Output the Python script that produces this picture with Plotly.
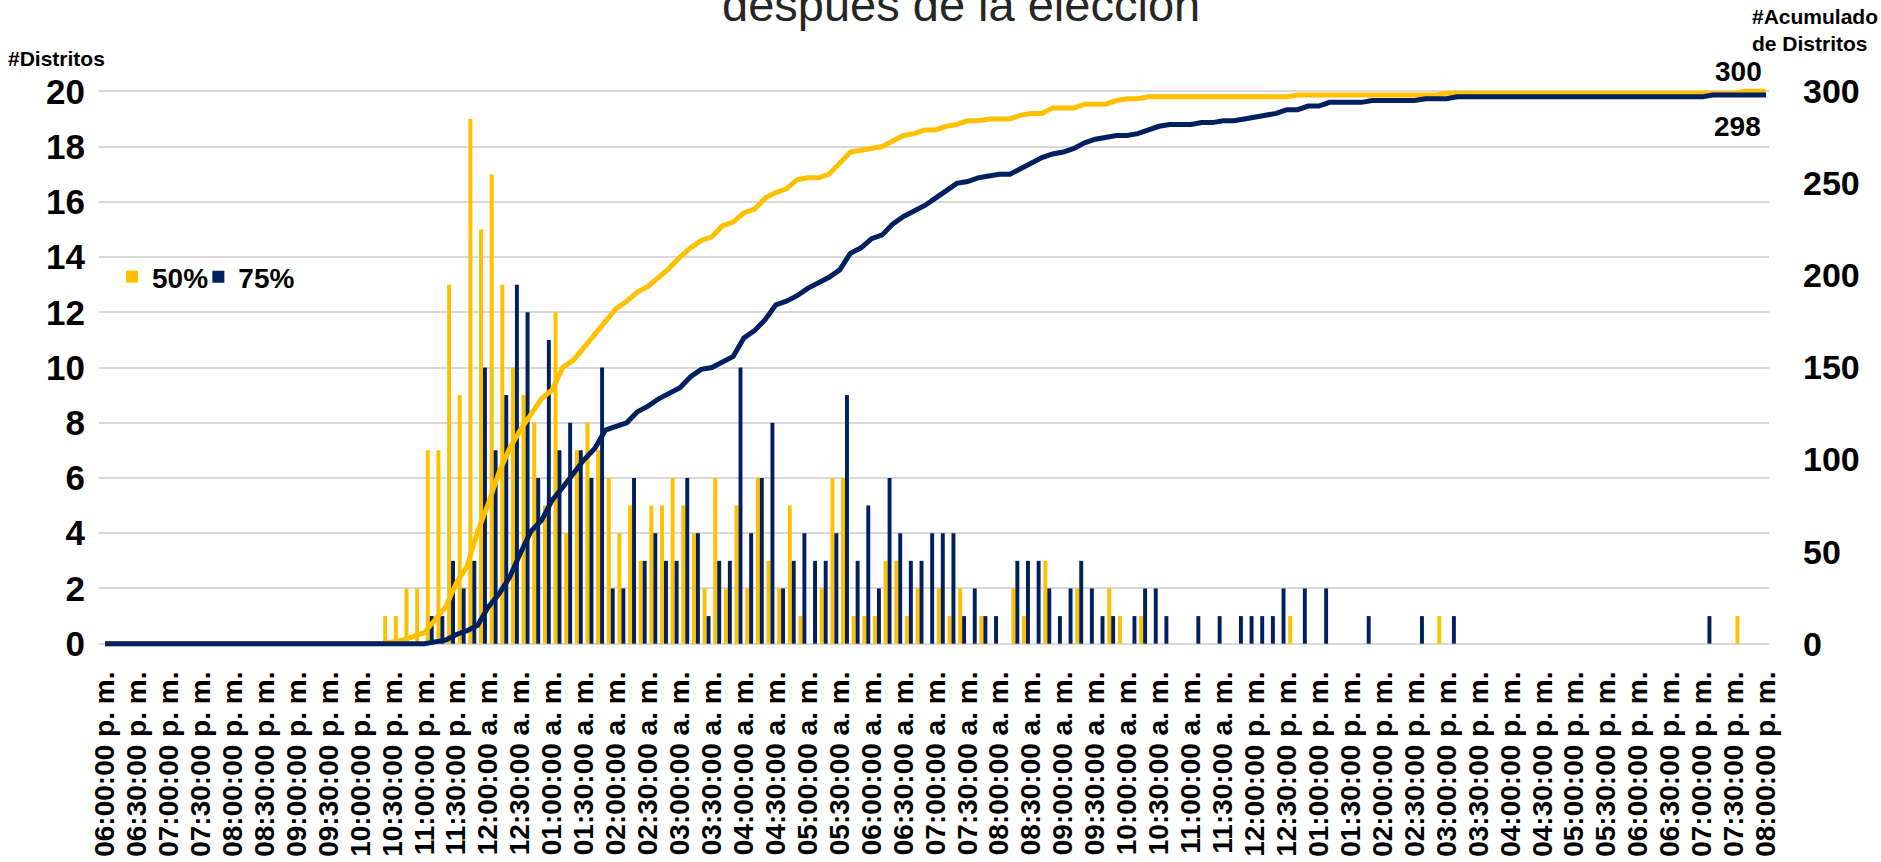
import plotly.graph_objects as go

# ---------------- data ----------------
tick_labels = [
    "06:00:00 p. m.", "06:30:00 p. m.", "07:00:00 p. m.", "07:30:00 p. m.",
    "08:00:00 p. m.", "08:30:00 p. m.", "09:00:00 p. m.", "09:30:00 p. m.",
    "10:00:00 p. m.", "10:30:00 p. m.", "11:00:00 p. m.", "11:30:00 p. m.",
    "12:00:00 a. m.", "12:30:00 a. m.", "01:00:00 a. m.", "01:30:00 a. m.",
    "02:00:00 a. m.", "02:30:00 a. m.", "03:00:00 a. m.", "03:30:00 a. m.",
    "04:00:00 a. m.", "04:30:00 a. m.", "05:00:00 a. m.", "05:30:00 a. m.",
    "06:00:00 a. m.", "06:30:00 a. m.", "07:00:00 a. m.", "07:30:00 a. m.",
    "08:00:00 a. m.", "08:30:00 a. m.", "09:00:00 a. m.", "09:30:00 a. m.",
    "10:00:00 a. m.", "10:30:00 a. m.", "11:00:00 a. m.", "11:30:00 a. m.",
    "12:00:00 p. m.", "12:30:00 p. m.", "01:00:00 p. m.", "01:30:00 p. m.",
    "02:00:00 p. m.", "02:30:00 p. m.", "03:00:00 p. m.", "03:30:00 p. m.",
    "04:00:00 p. m.", "04:30:00 p. m.", "05:00:00 p. m.", "05:30:00 p. m.",
    "06:00:00 p. m.", "06:30:00 p. m.", "07:00:00 p. m.", "07:30:00 p. m.",
    "08:00:00 p. m.",
]

# districts per 10-minute interval (156 intervals, 06:00 p.m. -> 08:00 p.m.)
bars_50 = (
    [0] * 26
    + [1, 1, 2, 2, 7, 7, 13, 9, 19, 15, 17, 13, 10, 9, 8, 5]
    + [12, 4, 7, 8, 7, 6, 4, 5, 3, 5, 5, 6, 5, 4, 2, 6]
    + [2, 5, 2, 6, 3, 2, 5, 1, 0, 2, 6, 6, 1, 1, 1, 3]
    + [3, 1, 2, 0, 2, 1, 2, 0, 1, 0, 0, 2, 1, 0, 3, 0]
    + [0, 2, 0, 0, 2, 1, 0, 1]
    + [0] * 13 + [1] + [0] * 13 + [1] + [0] * 27 + [1] + [0, 0]
)
bars_75 = (
    [0] * 30
    + [1, 1, 3, 2, 3, 10, 7, 9, 13, 12, 6, 11, 7, 8, 7, 6]
    + [10, 2, 2, 6, 3, 4, 3, 3, 6, 4, 1, 3, 3, 10, 4, 6]
    + [8, 2, 3, 4, 3, 3, 4, 9, 3, 5, 2, 6, 4, 3, 3, 4]
    + [4, 4, 1, 2, 1, 1, 0, 3, 3, 3, 2, 1, 2, 3, 2, 1]
    + [1, 0, 1, 2, 2, 1]
    + [0, 0]
    + [1, 0, 1, 0, 1, 1, 1, 1, 2, 0, 2, 0, 2]
    + [0, 0, 0, 1, 0, 0, 0, 0, 1, 0, 0, 1]
    + [0] * 23 + [1] + [0] * 5
)

# accumulated districts at each 10-minute mark (157 points)
acum_50 = (
    [0] * 27
    + [1, 2, 4, 6, 13, 20, 33, 42, 61, 76, 93, 106, 116, 125, 133, 138]
    + [150, 154, 161, 169, 176, 182, 186, 191, 194, 199, 204, 210, 215, 219, 221, 227]
    + [229, 234, 236, 242, 245, 247, 252, 253, 253, 255, 261, 267, 268, 269, 270, 273]
    + [276, 277, 279, 279, 281, 282, 284, 284, 285, 285, 285, 287, 288, 288, 291, 291]
    + [291, 293, 293, 293, 295, 296, 296, 297]
    + [297] * 13 + [298] * 14 + [299] * 28 + [300, 300, 300]
)
acum_75 = (
    [0] * 31
    + [1, 2, 5, 7, 10, 20, 27, 36, 49, 61, 67, 78, 85, 93, 100, 106]
    + [116, 118, 120, 126, 129, 133, 136, 139, 145, 149, 150, 153, 156, 166, 170, 176]
    + [184, 186, 189, 193, 196, 199, 203, 212, 215, 220, 222, 228, 232, 235, 238, 242]
    + [246, 250, 251, 253, 254, 255, 255, 258, 261, 264, 266, 267, 269, 272, 274, 275]
    + [276, 276, 277, 279, 281, 282, 282, 282, 283, 283, 284, 284, 285, 286, 287, 288]
    + [290, 290, 292, 292, 294, 294, 294, 294, 295, 295, 295, 295, 295, 296, 296, 296]
    + [297] * 24 + [298] * 6
)

marks = list(range(len(acum_50)))       # 10-minute marks
intervals = list(range(len(bars_50)))   # 10-minute intervals
tick_positions = marks[::3]

GOLD = "#FFC000"
NAVY = "#002060"
FONT = "Liberation Sans, Arial, sans-serif"

fig = go.Figure()
fig.add_trace(go.Bar(
    x=intervals, y=bars_50, name="50%", marker_color=GOLD, marker_line_width=0,
    width=0.37, offset=0.13, showlegend=True, legend="legend",
))
fig.add_trace(go.Bar(
    x=intervals, y=bars_75, name="75%", marker_color=NAVY, marker_line_width=0,
    width=0.37, offset=0.5, showlegend=True, legend="legend2",
))
fig.add_trace(go.Scatter(
    x=marks, y=acum_50, yaxis="y2", mode="lines", name="Acum 50%",
    line=dict(color=GOLD, width=5), showlegend=False,
))
fig.add_trace(go.Scatter(
    x=marks, y=acum_75, yaxis="y2", mode="lines", name="Acum 75%",
    line=dict(color=NAVY, width=5), showlegend=False,
))

legend_style = dict(
    orientation="h", xanchor="left", y=0.662, yanchor="middle",
    font=dict(family=FONT, size=28, weight="bold", color="black"),
    bgcolor="rgba(0,0,0,0)", itemwidth=30,
)

fig.update_layout(
    width=1881, height=862,
    margin=dict(l=99, r=112, t=88, b=215, autoexpand=False),
    paper_bgcolor="white", plot_bgcolor="white",
    barmode="overlay",
    font=dict(family=FONT, color="black"),
    xaxis=dict(
        range=[-0.5635, 156.28], tickmode="array", tickvals=tick_positions,
        ticktext=tick_labels, tickangle=-90, showgrid=False, zeroline=False,
        showline=False, ticks="", ticklabelstandoff=18,
        tickfont=dict(family=FONT, size=28, weight="bold", color="black"),
    ),
    yaxis=dict(
        range=[-0.12, 20.12], tickmode="array", tickvals=list(range(0, 21, 2)),
        showgrid=True, gridcolor="#D9D9D9", gridwidth=1.5, zeroline=False,
        showline=False, ticks="", ticklabelstandoff=13,
        tickfont=dict(family=FONT, size=35, weight="bold", color="black"),
    ),
    yaxis2=dict(
        range=[-1.8, 301.8], overlaying="y", side="right", tickmode="array",
        tickvals=list(range(0, 301, 50)), showgrid=False, zeroline=False,
        showline=False, ticks="", ticklabelstandoff=33,
        tickfont=dict(family=FONT, size=34, weight="bold", color="black"),
    ),
    legend=dict(x=0.0078, **legend_style),
    legend2=dict(x=0.0595, **legend_style),
    annotations=[
        dict(text="después de la elección", xref="paper", yref="paper",
             x=0.5163, y=1.1494, xanchor="center", yanchor="middle",
             showarrow=False, font=dict(family=FONT, size=47, color="#262626")),
        dict(text="#Distritos", xref="paper", yref="paper", x=-0.0257, y=1.052,
             xanchor="center", yanchor="middle", showarrow=False,
             font=dict(family=FONT, size=21, weight="bold", color="black")),
        dict(text="#Acumulado<br>de Distritos", xref="paper", yref="paper",
             x=0.9886, y=1.104, xanchor="left", yanchor="middle", align="left",
             showarrow=False,
             font=dict(family=FONT, size=21, weight="bold", color="black")),
        dict(text=str(acum_50[-1]), xref="x", yref="y2", x=marks[-1], y=acum_50[-1],
             xanchor="right", yanchor="bottom", xshift=-2, yshift=2,
             showarrow=False,
             font=dict(family=FONT, size=28, weight="bold", color="black")),
        dict(text=str(acum_75[-1]), xref="x", yref="y2", x=marks[-1], y=acum_75[-1],
             xanchor="right", yanchor="top", xshift=-3, yshift=-14,
             showarrow=False,
             font=dict(family=FONT, size=28, weight="bold", color="black")),
    ],
)

fig.write_html(
    "out.html",
    config={"displayModeBar": False},
    post_script="document.body.style.margin='0';document.body.style.padding='0';",
)
